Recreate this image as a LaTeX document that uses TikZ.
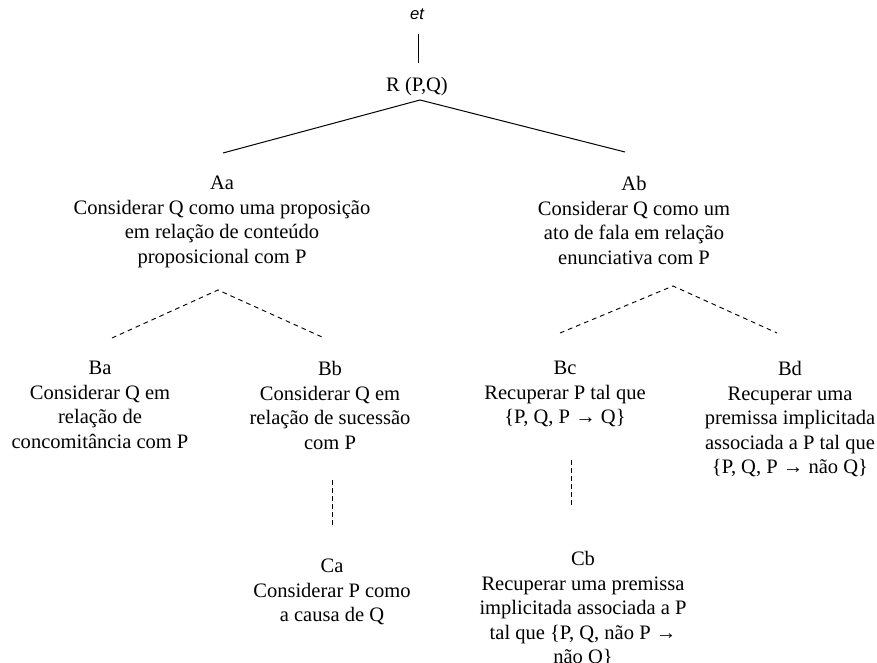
\documentclass[tikz,border=0pt]{standalone}
\usepackage{fontspec}
\setmainfont{Liberation Serif}
\newfontfamily\etfont{Liberation Sans}
\begin{document}
\begin{tikzpicture}[x=0.75pt,y=-0.75pt,
  txt/.style={align=center,inner sep=0pt,anchor=north,font=\fontsize{15.4}{18.4}\selectfont},
  solidline/.style={line width=0.75pt},
  dashline/.style={line width=0.7pt,dash pattern=on 3.5pt off 3pt},
  vdashline/.style={line width=0.7pt,dash pattern=on 3.75pt off 2.25pt}]
\useasboundingbox (0,0) rectangle (877,663);
\node[inner sep=0pt,font=\etfont\itshape\fontsize{12.5}{14}\selectfont] (et) at (417,14) {et};
\node[txt] (R) at (417,77) {R (P,Q)};
\coordinate (et1) at (418,34);
\coordinate (et2) at (418,63);
\draw[solidline] (et1) -- (et2);
\coordinate (apexA) at (420,100);
\coordinate (endAa) at (223,153);
\coordinate (endAb) at (625,152);
\draw[solidline] (endAa) -- (apexA) -- (endAb);
\node[txt] (Aa) at (222,176) {Aa\\Considerar Q como uma proposição\\em relação de conteúdo\\proposicional com P};
\node[txt] (Ab) at (634,176) {Ab\\Considerar Q como um\\ato de fala em relação\\enunciativa com P};
\coordinate (apexB1) at (218,290);
\coordinate (endBa) at (112,338);
\coordinate (endBb) at (322,337);
\draw[dashline] (endBa) -- (apexB1) -- (endBb);
\coordinate (apexB2) at (673,286);
\coordinate (endBc) at (560,333);
\coordinate (endBd) at (777,333);
\draw[dashline] (endBc) -- (apexB2) -- (endBd);
\node[txt] (Ba) at (100,361) {Ba\\Considerar Q em\\relação de\\concomitância com P};
\node[txt] (Bb) at (330,361) {Bb\\Considerar Q em\\relação de sucessão\\com P};
\node[txt] (Bc) at (565,361) {Bc\\Recuperar P tal que\\\{P, Q, P → Q\}};
\node[txt] (Bd) at (790,361) {Bd\\Recuperar uma\\premissa implicitada\\associada a P tal que\\\{P, Q, P → não Q\}};
\coordinate (Ca1) at (332,480);
\coordinate (Ca2) at (332,528);
\draw[vdashline] (Ca1) -- (Ca2);
\coordinate (Cb1) at (571,460);
\coordinate (Cb2) at (571,508);
\draw[vdashline] (Cb1) -- (Cb2);
\node[txt] (Ca) at (332,559) {Ca\\Considerar P como\\a causa de Q};
\node[txt] (Cb) at (583,551) {Cb\\Recuperar uma premissa\\implicitada associada a P\\tal que \{P, Q, não P →\\não Q\}};
\end{tikzpicture}
\end{document}
